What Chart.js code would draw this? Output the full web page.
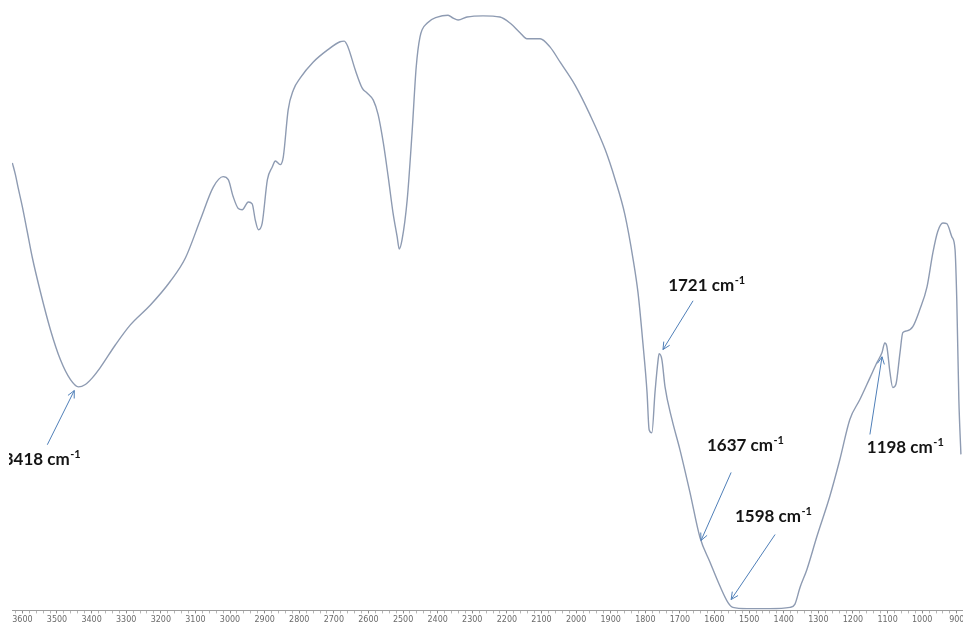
<!DOCTYPE html>
<html>
<head>
<meta charset="utf-8">
<script src="https://cdn.jsdelivr.net/npm/chart.js@4/dist/chart.umd.min.js"></script>
<style>
  html, body { margin: 0; padding: 0; background: #ffffff; }
  #c { display: block; }
</style>
</head>
<body>
<canvas id="c" width="963" height="624"></canvas>
<script>
// FT-IR spectrum: wavenumber (cm-1) against transmittance (%)
const wavenumbers = [
  3629, 3620, 3612, 3600, 3586, 3571, 3548, 3519, 3490, 3461, 3438, 3418, 3398, 3375,
  3331, 3288, 3230, 3173, 3129, 3086, 3048, 3020, 3005, 2991, 2976, 2965, 2947, 2936,
  2927, 2918, 2907, 2892, 2878, 2869, 2855, 2846, 2832, 2817, 2797, 2760, 2719, 2682,
  2670, 2659, 2638, 2618, 2604, 2586, 2572, 2557, 2543, 2529, 2517, 2511, 2503, 2488,
  2474, 2462, 2451, 2430, 2401, 2370, 2355, 2341, 2315, 2269, 2220, 2191, 2162, 2142,
  2104, 2075, 2046, 2003, 1960, 1916, 1887, 1859, 1835, 1821, 1807, 1795, 1789, 1781,
  1772, 1763, 1760, 1752, 1743, 1723, 1700, 1671, 1642, 1613, 1584, 1561, 1547, 1506,
  1440, 1382, 1368, 1353, 1333, 1304, 1267, 1238, 1209, 1180, 1151, 1131, 1116, 1108,
  1102, 1093, 1085, 1076, 1064, 1056, 1044, 1027, 1007, 986, 969, 955, 940, 929,
  914, 905, 900, 894, 888
];
const transmittance = [
  74.3, 72.3, 70.1, 67.0, 62.9, 58.5, 52.9, 46.6, 41.6, 38.3, 37.1, 37.5, 38.6, 40.3,
  44.1, 47.4, 50.7, 54.6, 58.5, 64.8, 70.3, 72.0, 71.5, 68.7, 66.7, 66.5, 67.8, 67.5,
  64.8, 63.2, 64.3, 71.5, 73.6, 74.6, 74.0, 75.3, 83.1, 86.4, 88.4, 91.0, 93.0, 94.4,
  94.5, 93.5, 89.7, 86.7, 85.9, 84.7, 82.3, 77.6, 72.0, 66.0, 62.0, 60.0, 61.5, 68.2,
  79.3, 90.2, 95.2, 97.5, 98.5, 98.8, 98.3, 98.0, 98.5, 98.7, 98.5, 97.5, 95.9, 94.9,
  94.9, 93.5, 91.0, 87.2, 82.3, 76.5, 71.5, 65.7, 58.2, 52.7, 44.4, 36.2, 30.0, 29.5,
  36.2, 41.6, 42.6, 41.6, 37.1, 31.7, 26.7, 19.6, 12.1, 8.0, 4.0, 1.3, 0.5, 0.3,
  0.3, 0.5, 1.0, 3.8, 6.8, 12.3, 18.9, 25.0, 31.7, 35.0, 38.6, 41.1, 42.8, 44.4,
  43.8, 39.5, 37.0, 37.5, 42.8, 46.1, 46.4, 47.1, 49.9, 53.7, 59.4, 62.9, 64.3, 64.2,
  62.0, 59.9, 51.6, 35.0, 25.9
];

// Labelled x-axis ticks (cm-1)
const tickLabels = [3600, 3500, 3400, 3300, 3200, 3100, 3000, 2900, 2800, 2700, 2600,
  2500, 2400, 2300, 2200, 2100, 2000, 1900, 1800, 1700, 1600, 1500, 1400, 1300, 1200,
  1100, 1000, 900];

// Band assignments shown on the spectrum
const bandLabels = ['3418', '1721', '1637', '1598', '1198'];

// Where each band label sits and where its arrow runs (data coordinates)
const bandMarkers = [
  { text: [3654, 24.2], tail: [3528, 27.5], tip: [3450, 36.5] },
  { text: [1734, 53.1], tail: [1662, 51.4], tip: [1749, 43.3] },
  { text: [1622, 26.4], tail: [1552, 22.9], tip: [1639, 11.6] },
  { text: [1541, 14.6], tail: [1425, 12.6], tip: [1552, 1.8] },
  { text: [1160, 26.2], tail: [1151, 29.2], tip: [1116, 42.1] }
];

// minor tick marks every 20 cm-1 across the axis range
const axisTicks = [];
for (let v = 3620; v >= 900; v -= 20) axisTicks.push(v);

const bandPlugin = {
  id: 'bandArrows',
  afterDatasetsDraw(chart) {
    const { ctx, chartArea, scales: { x, y } } = chart;
    ctx.save();
    // the figure is trimmed just left of the plot, so labels are cut there too
    ctx.beginPath();
    ctx.rect(chartArea.left - 3, 0, chart.width, chart.height);
    ctx.clip();
    bandMarkers.forEach((m, i) => {
      const tx = x.getPixelForValue(m.tail[0]), ty = y.getPixelForValue(m.tail[1]);
      const hx = x.getPixelForValue(m.tip[0]), hy = y.getPixelForValue(m.tip[1]);
      ctx.strokeStyle = '#4f7fb8';
      ctx.lineWidth = 1;
      ctx.beginPath();
      ctx.moveTo(tx, ty);
      ctx.lineTo(hx, hy);
      ctx.stroke();
      // open arrowhead
      const ang = Math.atan2(hy - ty, hx - tx);
      const len = 8, spread = 0.45;
      ctx.beginPath();
      ctx.moveTo(hx - len * Math.cos(ang - spread), hy - len * Math.sin(ang - spread));
      ctx.lineTo(hx, hy);
      ctx.lineTo(hx - len * Math.cos(ang + spread), hy - len * Math.sin(ang + spread));
      ctx.stroke();

      // label with superscript unit exponent
      const lx = x.getPixelForValue(m.text[0]), ly = y.getPixelForValue(m.text[1]);
      ctx.fillStyle = '#141414';
      ctx.textBaseline = 'alphabetic';
      ctx.textAlign = 'left';
      ctx.font = 'bold 17px Lato';
      const main = bandLabels[i] + ' cm';
      ctx.fillText(main, lx, ly);
      const w = ctx.measureText(main).width;
      ctx.font = 'bold 11px Lato';
      ctx.fillText('-1', lx + w + 0.5, ly - 7);
    });
    ctx.restore();
  }
};

new Chart(document.getElementById('c'), {
  type: 'line',
  data: {
    datasets: [{
      data: wavenumbers.map((w, i) => ({ x: w, y: transmittance[i] })),
      borderColor: '#8e9bb2',
      borderWidth: 1.4,
      pointRadius: 0,
      fill: false,
      cubicInterpolationMode: 'monotone'
    }]
  },
  options: {
    responsive: false,
    animation: false,
    layout: { padding: { left: 12, right: 0, top: 8, bottom: -3 } },
    plugins: { legend: { display: false }, tooltip: { enabled: false } },
    scales: {
      x: {
        type: 'linear',
        reverse: true,
        min: 882,
        max: 3630,
        afterBuildTicks: s => { s.ticks = axisTicks.map(v => ({ value: v })); },
        afterFit: s => { s.paddingLeft = 0; s.paddingRight = 0; },
        ticks: {
          autoSkip: false,
          maxRotation: 0,
          padding: 2,
          color: '#6a6a6a',
          font: { family: 'DejaVu Sans', size: 8 },
          callback: v => (tickLabels.includes(v) ? String(v) : '')
        },
        grid: {
          drawOnChartArea: false,
          drawTicks: true,
          tickLength: 3,
          tickColor: ctx => (ctx.tick && tickLabels.includes(ctx.tick.value) ? '#8a8a8a' : '#b5b5b5')
        },
        border: { color: '#9c9c9c', width: 1 }
      },
      y: { display: false, min: 0, max: 100 }
    }
  },
  plugins: [bandPlugin]
});
</script>
</body>
</html>
